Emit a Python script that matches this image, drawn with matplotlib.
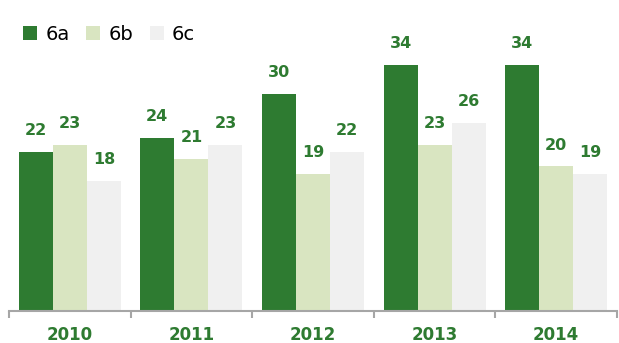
import matplotlib
matplotlib.use("Agg")
import matplotlib.pyplot as plt
import numpy as np
from matplotlib.patches import Patch

years = ["2010", "2011", "2012", "2013", "2014"]
series_names = ["6a", "6b", "6c"]
values_6a = [22, 24, 30, 34, 34]
values_6b = [23, 21, 19, 23, 20]
values_6c = [18, 23, 22, 26, 19]

colors = ["#2e7b31", "#d9e5c1", "#f0f0f0"]
label_color = "#2e7b31"
axis_color = "#a6a6a6"

plt.rcParams["font.family"] = ["DejaVu Sans"]

fig = plt.figure(figsize=(6.19, 3.43), dpi=100)
ax = fig.add_axes([9 / 619, 32 / 343, 608 / 619, 284 / 343])

x = np.arange(len(years))
width = 0.28
offsets = [-width, 0, width]
all_values = [values_6a, values_6b, values_6c]

for vals, off, col in zip(all_values, offsets, colors):
    bars = ax.bar(x + off, vals, width=width, color=col, edgecolor="none")
    for b, v in zip(bars, vals):
        ax.annotate(str(v), (b.get_x() + b.get_width() / 2, v),
                    xytext=(0, 10), textcoords="offset points",
                    ha="center", va="bottom", fontsize=11.5,
                    fontweight="bold", color=label_color)

ax.set_xlim(-0.5, len(years) - 0.5)
ax.set_ylim(0, 39.3)

for side in ["top", "right", "left"]:
    ax.spines[side].set_visible(False)
ax.spines["bottom"].set_color(axis_color)
ax.spines["bottom"].set_linewidth(1.5)

ax.set_yticks([])
ax.set_xticks(x)
ax.set_xticklabels(years, fontsize=12, fontweight="bold", color=label_color)
ax.tick_params(axis="x", which="major", length=0, pad=11)
ax.set_xticks(np.arange(-0.5, len(years)), minor=True)
ax.tick_params(axis="x", which="minor", length=5, width=1.5, color=axis_color)

handles = [Patch(facecolor=c, edgecolor="none") for c in colors]
fig.legend(handles, series_names, loc="upper left",
           bbox_to_anchor=(15 / 619, 1 - 17 / 343), ncol=3, frameon=False,
           fontsize=14, handlelength=0.75, handleheight=0.75,
           handletextpad=0.4, columnspacing=0.85, borderaxespad=0)

fig.savefig("out.png", dpi=100)
